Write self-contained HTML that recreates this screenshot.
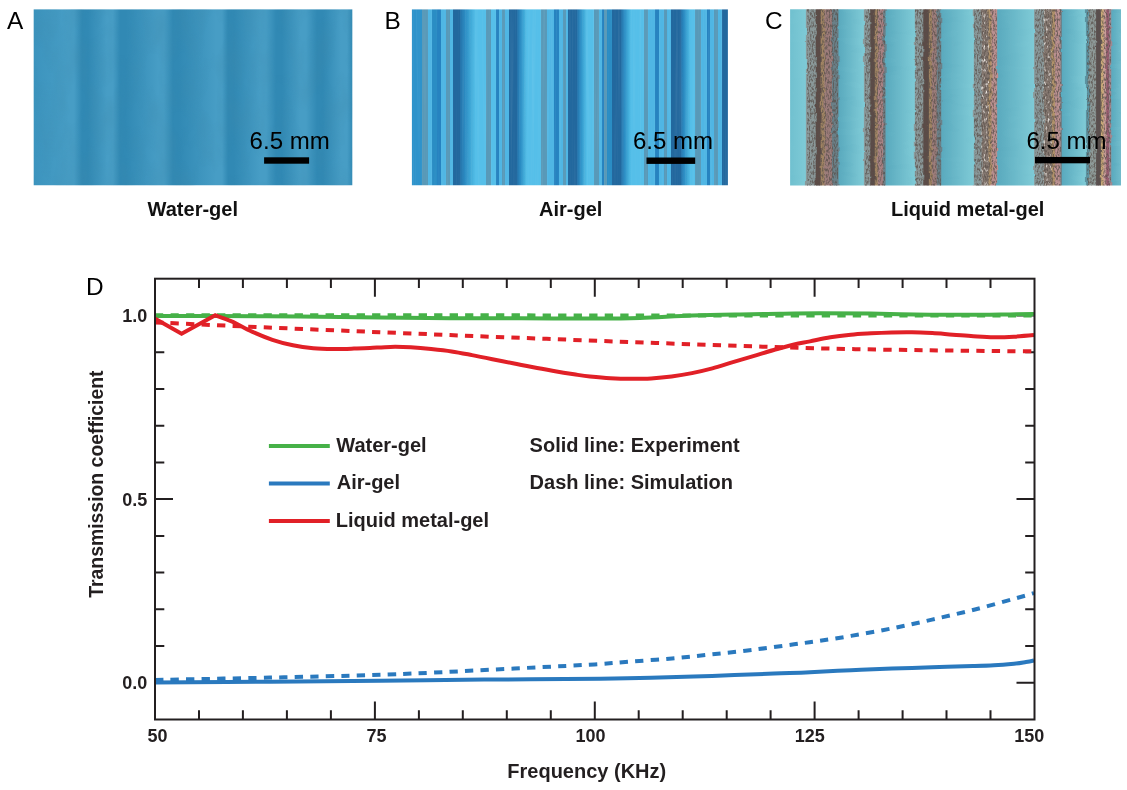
<!DOCTYPE html>
<html lang="en">
<head>
<meta charset="utf-8">
<title>Figure: gel transmission</title>
<style>
html,body{margin:0;padding:0;background:#fff;}
svg{display:block;font-family:"Liberation Sans",Arial,Helvetica,sans-serif;}
.b{font-weight:700;}
</style>
</head>
<body>
<svg width="1127" height="790" viewBox="0 0 1127 790">
<defs>
<linearGradient id="ga" gradientUnits="userSpaceOnUse" x1="33.7" y1="0" x2="352.3" y2="0"><stop offset="0.0000" stop-color="#3c94be"/><stop offset="0.1077" stop-color="#479dc5"/><stop offset="0.1265" stop-color="#479dc5"/><stop offset="0.1516" stop-color="#3189b4"/><stop offset="0.1704" stop-color="#3189b4"/><stop offset="0.2301" stop-color="#479dc5"/><stop offset="0.2489" stop-color="#479dc5"/><stop offset="0.2709" stop-color="#3189b4"/><stop offset="0.2897" stop-color="#3189b4"/><stop offset="0.3901" stop-color="#479dc5"/><stop offset="0.4090" stop-color="#479dc5"/><stop offset="0.4372" stop-color="#3189b4"/><stop offset="0.4561" stop-color="#3189b4"/><stop offset="0.5722" stop-color="#479dc5"/><stop offset="0.5910" stop-color="#479dc5"/><stop offset="0.6099" stop-color="#3189b4"/><stop offset="0.6287" stop-color="#3189b4"/><stop offset="0.7103" stop-color="#479dc5"/><stop offset="0.7291" stop-color="#479dc5"/><stop offset="0.7605" stop-color="#3189b4"/><stop offset="0.7793" stop-color="#3189b4"/><stop offset="0.8358" stop-color="#479dc5"/><stop offset="0.8547" stop-color="#479dc5"/><stop offset="0.8892" stop-color="#3189b4"/><stop offset="0.9080" stop-color="#3189b4"/><stop offset="0.9645" stop-color="#479dc5"/><stop offset="0.9834" stop-color="#479dc5"/><stop offset="1.0000" stop-color="#348cb6"/></linearGradient>
<linearGradient id="gb" gradientUnits="userSpaceOnUse" x1="411.9" y1="0" x2="727.9" y2="0"><stop offset="0.0000" stop-color="#2f93cb"/><stop offset="0.0332" stop-color="#2f93cb"/><stop offset="0.0332" stop-color="#5899b8"/><stop offset="0.0509" stop-color="#5899b8"/><stop offset="0.0509" stop-color="#4fb6e4"/><stop offset="0.0627" stop-color="#4fb6e4"/><stop offset="0.0627" stop-color="#2c8dc4"/><stop offset="0.0785" stop-color="#2c8dc4"/><stop offset="0.0785" stop-color="#2583c0"/><stop offset="0.0921" stop-color="#2583c0"/><stop offset="0.0921" stop-color="#4fb6e4"/><stop offset="0.1079" stop-color="#4fb6e4"/><stop offset="0.1079" stop-color="#5899b8"/><stop offset="0.1196" stop-color="#5899b8"/><stop offset="0.1196" stop-color="#4fb6e4"/><stop offset="0.1288" stop-color="#4fb6e4"/><stop offset="0.1288" stop-color="#24689e"/><stop offset="0.1513" stop-color="#24689e"/><stop offset="0.1513" stop-color="#2470a8"/><stop offset="0.1690" stop-color="#2c8dc4"/><stop offset="0.1867" stop-color="#40aad8"/><stop offset="0.2019" stop-color="#54bfe9"/><stop offset="0.2332" stop-color="#54bfe9"/><stop offset="0.2332" stop-color="#5899b8"/><stop offset="0.2503" stop-color="#5899b8"/><stop offset="0.2503" stop-color="#54bfe9"/><stop offset="0.2668" stop-color="#54bfe9"/><stop offset="0.2668" stop-color="#2583c0"/><stop offset="0.2763" stop-color="#2583c0"/><stop offset="0.2763" stop-color="#4fb6e4"/><stop offset="0.2864" stop-color="#4fb6e4"/><stop offset="0.2864" stop-color="#5899b8"/><stop offset="0.2956" stop-color="#5899b8"/><stop offset="0.2956" stop-color="#4fb6e4"/><stop offset="0.3066" stop-color="#4fb6e4"/><stop offset="0.3066" stop-color="#24689e"/><stop offset="0.3326" stop-color="#24689e"/><stop offset="0.3326" stop-color="#2470a8"/><stop offset="0.3437" stop-color="#2c8dc4"/><stop offset="0.3547" stop-color="#40aad8"/><stop offset="0.3642" stop-color="#54bfe9"/><stop offset="0.4070" stop-color="#54bfe9"/><stop offset="0.4070" stop-color="#5899b8"/><stop offset="0.4288" stop-color="#5899b8"/><stop offset="0.4288" stop-color="#4fb6e4"/><stop offset="0.4494" stop-color="#4fb6e4"/><stop offset="0.4494" stop-color="#2583c0"/><stop offset="0.4655" stop-color="#2583c0"/><stop offset="0.4655" stop-color="#4fb6e4"/><stop offset="0.4766" stop-color="#4fb6e4"/><stop offset="0.4766" stop-color="#5899b8"/><stop offset="0.4892" stop-color="#5899b8"/><stop offset="0.4892" stop-color="#4fb6e4"/><stop offset="0.4927" stop-color="#4fb6e4"/><stop offset="0.4927" stop-color="#24689e"/><stop offset="0.5218" stop-color="#24689e"/><stop offset="0.5218" stop-color="#2470a8"/><stop offset="0.5329" stop-color="#2c8dc4"/><stop offset="0.5440" stop-color="#40aad8"/><stop offset="0.5535" stop-color="#54bfe9"/><stop offset="0.5772" stop-color="#54bfe9"/><stop offset="0.5772" stop-color="#5899b8"/><stop offset="0.5921" stop-color="#5899b8"/><stop offset="0.5921" stop-color="#4fb6e4"/><stop offset="0.6016" stop-color="#4fb6e4"/><stop offset="0.6016" stop-color="#2583c0"/><stop offset="0.6089" stop-color="#2583c0"/><stop offset="0.6089" stop-color="#5899b8"/><stop offset="0.6184" stop-color="#5899b8"/><stop offset="0.6184" stop-color="#2c8dc4"/><stop offset="0.6332" stop-color="#2c8dc4"/><stop offset="0.6332" stop-color="#24689e"/><stop offset="0.6617" stop-color="#24689e"/><stop offset="0.6617" stop-color="#2470a8"/><stop offset="0.6728" stop-color="#2c8dc4"/><stop offset="0.6839" stop-color="#40aad8"/><stop offset="0.6934" stop-color="#54bfe9"/><stop offset="0.7345" stop-color="#54bfe9"/><stop offset="0.7345" stop-color="#5899b8"/><stop offset="0.7487" stop-color="#5899b8"/><stop offset="0.7487" stop-color="#4fb6e4"/><stop offset="0.7706" stop-color="#4fb6e4"/><stop offset="0.7706" stop-color="#2583c0"/><stop offset="0.7826" stop-color="#2583c0"/><stop offset="0.7826" stop-color="#4fb6e4"/><stop offset="0.7972" stop-color="#4fb6e4"/><stop offset="0.7972" stop-color="#5899b8"/><stop offset="0.8066" stop-color="#5899b8"/><stop offset="0.8066" stop-color="#4fb6e4"/><stop offset="0.8190" stop-color="#4fb6e4"/><stop offset="0.8190" stop-color="#24689e"/><stop offset="0.8503" stop-color="#24689e"/><stop offset="0.8503" stop-color="#2470a8"/><stop offset="0.8614" stop-color="#2c8dc4"/><stop offset="0.8725" stop-color="#40aad8"/><stop offset="0.8820" stop-color="#54bfe9"/><stop offset="0.8959" stop-color="#54bfe9"/><stop offset="0.8959" stop-color="#5899b8"/><stop offset="0.9149" stop-color="#5899b8"/><stop offset="0.9149" stop-color="#4fb6e4"/><stop offset="0.9323" stop-color="#4fb6e4"/><stop offset="0.9323" stop-color="#2583c0"/><stop offset="0.9421" stop-color="#2583c0"/><stop offset="0.9421" stop-color="#4fb6e4"/><stop offset="0.9560" stop-color="#4fb6e4"/><stop offset="0.9560" stop-color="#5899b8"/><stop offset="0.9687" stop-color="#5899b8"/><stop offset="0.9687" stop-color="#4fb6e4"/><stop offset="0.9807" stop-color="#4fb6e4"/><stop offset="0.9807" stop-color="#24689e"/><stop offset="1.0000" stop-color="#24689e"/></linearGradient>
<linearGradient id="gc" gradientUnits="userSpaceOnUse" x1="790.1" y1="0" x2="1121.0" y2="0"><stop offset="0.0000" stop-color="#70c0cf"/><stop offset="0.0462" stop-color="#7ecad6"/><stop offset="0.0496" stop-color="#8a9899"/><stop offset="0.0760" stop-color="#8a9899"/><stop offset="0.0790" stop-color="#5b4c46"/><stop offset="0.0907" stop-color="#5b4c46"/><stop offset="0.0938" stop-color="#a08464"/><stop offset="0.1025" stop-color="#a08464"/><stop offset="0.1055" stop-color="#9c7c7a"/><stop offset="0.1251" stop-color="#9c7c7a"/><stop offset="0.1281" stop-color="#6b8088"/><stop offset="0.1448" stop-color="#6b8088"/><stop offset="0.1481" stop-color="#5aaabe"/><stop offset="0.2215" stop-color="#7ecad6"/><stop offset="0.2248" stop-color="#8a9899"/><stop offset="0.2407" stop-color="#8a9899"/><stop offset="0.2438" stop-color="#5b4c46"/><stop offset="0.2545" stop-color="#5b4c46"/><stop offset="0.2575" stop-color="#a08464"/><stop offset="0.2636" stop-color="#a08464"/><stop offset="0.2666" stop-color="#a88284"/><stop offset="0.2799" stop-color="#a88284"/><stop offset="0.2829" stop-color="#6b8088"/><stop offset="0.2871" stop-color="#6b8088"/><stop offset="0.2904" stop-color="#5aaabe"/><stop offset="0.3753" stop-color="#7ecad6"/><stop offset="0.3787" stop-color="#8a9899"/><stop offset="0.4011" stop-color="#8a9899"/><stop offset="0.4041" stop-color="#5b4c46"/><stop offset="0.4178" stop-color="#5b4c46"/><stop offset="0.4208" stop-color="#a08464"/><stop offset="0.4273" stop-color="#a08464"/><stop offset="0.4303" stop-color="#9c7c7a"/><stop offset="0.4416" stop-color="#9c7c7a"/><stop offset="0.4446" stop-color="#6b8088"/><stop offset="0.4551" stop-color="#6b8088"/><stop offset="0.4584" stop-color="#5aaabe"/><stop offset="0.5536" stop-color="#7ecad6"/><stop offset="0.5570" stop-color="#8a9899"/><stop offset="0.5771" stop-color="#8a9899"/><stop offset="0.5801" stop-color="#85786f"/><stop offset="0.5981" stop-color="#85786f"/><stop offset="0.6011" stop-color="#b0926a"/><stop offset="0.6072" stop-color="#b0926a"/><stop offset="0.6103" stop-color="#ba9090"/><stop offset="0.6241" stop-color="#ba9090"/><stop offset="0.6274" stop-color="#5aaabe"/><stop offset="0.7356" stop-color="#7ecad6"/><stop offset="0.7389" stop-color="#8a9899"/><stop offset="0.7661" stop-color="#8a9899"/><stop offset="0.7691" stop-color="#85786f"/><stop offset="0.7896" stop-color="#85786f"/><stop offset="0.7927" stop-color="#b0926a"/><stop offset="0.7989" stop-color="#b0926a"/><stop offset="0.8019" stop-color="#ba9090"/><stop offset="0.8157" stop-color="#ba9090"/><stop offset="0.8187" stop-color="#6b8088"/><stop offset="0.8199" stop-color="#6b8088"/><stop offset="0.8232" stop-color="#5aaabe"/><stop offset="0.8924" stop-color="#7ecad6"/><stop offset="0.8957" stop-color="#5c92a0"/><stop offset="0.9026" stop-color="#5c92a0"/><stop offset="0.9056" stop-color="#8e9a98"/><stop offset="0.9232" stop-color="#8e9a98"/><stop offset="0.9262" stop-color="#5a5050"/><stop offset="0.9376" stop-color="#5a5050"/><stop offset="0.9407" stop-color="#c8a878"/><stop offset="0.9460" stop-color="#c8a878"/><stop offset="0.9490" stop-color="#c89c98"/><stop offset="0.9536" stop-color="#c89c98"/><stop offset="0.9567" stop-color="#985c70"/><stop offset="0.9620" stop-color="#985c70"/><stop offset="0.9650" stop-color="#a08890"/><stop offset="0.9689" stop-color="#a08890"/><stop offset="0.9722" stop-color="#5aaabe"/><stop offset="1.0000" stop-color="#72bccb"/></linearGradient>
<clipPath id="ca"><rect x="33.7" y="9.2" width="318.6" height="176.3"/></clipPath>
<clipPath id="cb"><rect x="411.9" y="9.2" width="316.0" height="176.3"/></clipPath>
<clipPath id="cc"><rect x="790.1" y="9.2" width="330.9" height="176.3"/></clipPath>
<filter id="soft" x="-5%" y="-5%" width="110%" height="110%"><feGaussianBlur stdDeviation="0.7 0"/></filter>
<filter id="wavy" x="-2%" y="-2%" width="104%" height="104%"><feTurbulence type="fractalNoise" baseFrequency="0.03 0.11" numOctaves="2" seed="4" result="t"/><feDisplacementMap in="SourceGraphic" in2="t" scale="3.2" xChannelSelector="R" yChannelSelector="G"/><feGaussianBlur stdDeviation="0.6 0.3"/></filter>
<filter id="nA" x="0" y="0" width="100%" height="100%"><feTurbulence type="fractalNoise" baseFrequency="0.045 0.02" numOctaves="3" seed="7"/><feColorMatrix type="matrix" values="0 0 0 0 0.05  0 0 0 0 0.25  0 0 0 0 0.4  1.6 0 0 0 -0.62"/></filter>
<filter id="nB" x="0" y="0" width="100%" height="100%"><feTurbulence type="fractalNoise" baseFrequency="0.55 0.006" numOctaves="2" seed="11"/><feColorMatrix type="matrix" values="0 0 0 0 1  0 0 0 0 1  0 0 0 0 1  2.2 0 0 0 -0.95"/></filter>
<filter id="nC" x="0" y="0" width="100%" height="100%"><feTurbulence type="fractalNoise" baseFrequency="0.75 0.32" numOctaves="2" seed="5"/><feColorMatrix type="matrix" values="0 0 0 0 0.1  0 0 0 0 0.08  0 0 0 0 0.07  3.4 0 0 0 -1.42"/></filter>
<filter id="nC2" x="0" y="0" width="100%" height="100%"><feTurbulence type="fractalNoise" baseFrequency="0.5 0.22" numOctaves="2" seed="23"/><feColorMatrix type="matrix" values="0 0 0 0 1  0 0 0 0 0.97  0 0 0 0 0.94  4.0 0 0 0 -2.35"/></filter>
</defs>
<rect x="0" y="0" width="1127" height="790" fill="#ffffff"/>
<g id="panelA">
<g clip-path="url(#ca)">
<rect x="30.7" y="9.2" width="324.6" height="176.3" fill="url(#ga)"/>
<rect x="33.7" y="9.2" width="318.6" height="176.3" filter="url(#nA)" opacity="0.35"/>
</g>
<rect x="264.1" y="157.3" width="45" height="6.4" fill="#000"/>
<text x="249.6" y="149" font-size="23.5" fill="#000" textLength="80.2" lengthAdjust="spacingAndGlyphs">6.5 mm</text>
<text x="7" y="28.7" font-size="24.4" fill="#000">A</text>
<text class="b" x="147.6" y="216.4" font-size="20" fill="#111">Water-gel</text>
</g>
<g id="panelB">
<g clip-path="url(#cb)">
<rect x="408.9" y="9.2" width="322.0" height="176.3" fill="url(#gb)" filter="url(#soft)"/>
<rect x="411.9" y="9.2" width="316.0" height="176.3" filter="url(#nB)" opacity="0.07"/>
</g>
<rect x="646.5" y="157.5" width="48.7" height="6.4" fill="#000"/>
<text x="632.9" y="149" font-size="23.5" fill="#000" textLength="80.2" lengthAdjust="spacingAndGlyphs">6.5 mm</text>
<text x="384.6" y="28.7" font-size="24.4" fill="#000">B</text>
<text class="b" x="539" y="216.4" font-size="20" fill="#111">Air-gel</text>
</g>
<g id="panelC">
<g clip-path="url(#cc)">
<rect x="784.1" y="3.2" width="342.9" height="188.3" fill="url(#gc)" filter="url(#wavy)"/>
<rect x="807.0" y="9.2" width="30.5" height="176.3" filter="url(#nC)" opacity="0.75"/>
<rect x="865.0" y="9.2" width="19.6" height="176.3" filter="url(#nC)" opacity="0.75"/>
<rect x="915.9" y="9.2" width="24.3" height="176.3" filter="url(#nC)" opacity="0.75"/>
<rect x="974.9" y="9.2" width="21.2" height="176.3" filter="url(#nC)" opacity="0.75"/>
<rect x="1035.1" y="9.2" width="25.8" height="176.3" filter="url(#nC)" opacity="0.75"/>
<rect x="1087.0" y="9.2" width="23.2" height="176.3" filter="url(#nC)" opacity="0.75"/>
<rect x="981.6" y="9.2" width="7.0" height="176.3" filter="url(#nC2)" opacity="0.8"/>
<rect x="1043.3" y="9.2" width="8.3" height="176.3" filter="url(#nC2)" opacity="0.8"/>
</g>
<rect x="1035" y="156.9" width="55" height="6.4" fill="#000"/>
<text x="1026.4" y="149" font-size="23.5" fill="#000" textLength="80.2" lengthAdjust="spacingAndGlyphs">6.5 mm</text>
<text x="764.9" y="28.8" font-size="24.4" fill="#000">C</text>
<text class="b" x="891" y="216.4" font-size="20" fill="#111">Liquid metal-gel</text>
</g>
<g id="chartD">
<text x="86" y="295.2" font-size="24.4" fill="#000">D</text>
<g stroke="#231f20" stroke-width="2" fill="none">
<path d="M199.0 278.7 v9.3 M199.0 719.5 v-9.3 M242.9 278.7 v9.3 M242.9 719.5 v-9.3 M286.9 278.7 v9.3 M286.9 719.5 v-9.3 M330.9 278.7 v9.3 M330.9 719.5 v-9.3 M374.9 278.7 v18.0 M374.9 719.5 v-18.0 M418.9 278.7 v9.3 M418.9 719.5 v-9.3 M462.8 278.7 v9.3 M462.8 719.5 v-9.3 M506.8 278.7 v9.3 M506.8 719.5 v-9.3 M550.8 278.7 v9.3 M550.8 719.5 v-9.3 M594.8 278.7 v18.0 M594.8 719.5 v-18.0 M638.7 278.7 v9.3 M638.7 719.5 v-9.3 M682.7 278.7 v9.3 M682.7 719.5 v-9.3 M726.7 278.7 v9.3 M726.7 719.5 v-9.3 M770.6 278.7 v9.3 M770.6 719.5 v-9.3 M814.6 278.7 v18.0 M814.6 719.5 v-18.0 M858.6 278.7 v9.3 M858.6 719.5 v-9.3 M902.6 278.7 v9.3 M902.6 719.5 v-9.3 M946.5 278.7 v9.3 M946.5 719.5 v-9.3 M990.5 278.7 v9.3 M990.5 719.5 v-9.3 M155.0 682.8 h18.0 M1034.5 682.8 h-18.0 M155.0 646.1 h9.3 M1034.5 646.1 h-9.3 M155.0 609.3 h9.3 M1034.5 609.3 h-9.3 M155.0 572.6 h9.3 M1034.5 572.6 h-9.3 M155.0 535.9 h9.3 M1034.5 535.9 h-9.3 M155.0 499.1 h18.0 M1034.5 499.1 h-18.0 M155.0 462.4 h9.3 M1034.5 462.4 h-9.3 M155.0 425.7 h9.3 M1034.5 425.7 h-9.3 M155.0 389.0 h9.3 M1034.5 389.0 h-9.3 M155.0 352.2 h9.3 M1034.5 352.2 h-9.3 M155.0 315.5 h18.0 M1034.5 315.5 h-18.0"/>
</g>
<clipPath id="cp"><rect x="155.0" y="278.7" width="879.5" height="440.8"/></clipPath>
<g clip-path="url(#cp)" fill="none" stroke-width="4.0" stroke-linejoin="miter">
<path d="M155.2 680.0 C174.3 679.6 234.2 678.4 270.0 677.6 C305.8 676.8 343.2 675.9 370.0 675.1 C396.8 674.3 410.7 673.6 431.0 672.7 C451.3 671.8 471.5 670.6 492.0 669.6 C512.5 668.6 536.9 667.4 554.0 666.5 C571.1 665.6 581.7 665.2 594.5 664.4 C607.3 663.6 618.1 662.6 631.0 661.6 C643.9 660.6 658.5 659.6 672.0 658.4 C685.5 657.2 698.5 655.7 712.0 654.3 C725.5 652.9 739.3 651.5 753.0 649.8 C766.7 648.1 782.8 645.8 794.0 644.3 C805.2 642.8 810.5 642.2 820.0 640.8 C829.5 639.4 839.0 638.0 851.0 635.9 C863.0 633.8 878.5 631.1 892.0 628.4 C905.5 625.7 918.5 622.7 932.0 619.6 C945.5 616.5 959.3 613.5 973.0 610.0 C986.7 606.5 1003.8 601.6 1014.0 598.8 C1024.2 596.0 1030.7 594.0 1034.0 593.1" stroke="#2a79be" stroke-dasharray="8.3 7.2"/>
<path d="M155.2 682.6 C174.3 682.5 232.5 682.0 270.0 681.7 C307.5 681.4 344.3 681.1 380.0 680.8 C415.7 680.4 447.3 680.0 484.0 679.6 C520.7 679.2 572.2 679.0 600.0 678.7 C627.8 678.4 632.3 678.3 651.0 677.8 C669.7 677.3 691.5 676.6 712.0 675.9 C732.5 675.2 757.7 674.1 774.0 673.5 C790.3 672.9 797.2 672.8 810.0 672.2 C822.8 671.7 837.3 670.8 851.0 670.2 C864.7 669.6 878.5 669.1 892.0 668.6 C905.5 668.1 918.5 667.7 932.0 667.3 C945.5 666.9 962.7 666.4 973.0 666.1 C983.3 665.8 987.2 665.7 994.0 665.3 C1000.8 664.9 1008.7 664.2 1014.0 663.7 C1019.3 663.2 1022.7 662.5 1026.0 662.0 C1029.3 661.5 1032.7 660.7 1034.0 660.4" stroke="#2a79be"/>
<path d="M155.2 315.2 C301.7 315.3 887.5 315.5 1034.0 315.6" stroke="#46b148" stroke-dasharray="8.3 7.2"/>
<path d="M155.2 315.9 C165.2 315.9 190.9 315.8 215.0 315.9 C239.1 316.0 272.5 316.2 300.0 316.5 C327.5 316.8 355.0 317.2 380.0 317.5 C405.0 317.8 426.7 318.1 450.0 318.2 C473.3 318.3 495.0 318.2 520.0 318.3 C545.0 318.4 580.0 318.7 600.0 318.6 C620.0 318.6 624.7 318.5 640.0 318.0 C655.3 317.5 675.3 316.2 692.0 315.6 C708.7 315.0 725.3 314.7 740.0 314.4 C754.7 314.1 766.7 313.9 780.0 313.7 C793.3 313.5 805.0 313.3 820.0 313.3 C835.0 313.3 851.7 313.4 870.0 313.6 C888.3 313.8 911.7 314.5 930.0 314.7 C948.3 314.9 966.7 314.9 980.0 314.8 C993.3 314.8 1001.0 314.5 1010.0 314.4 C1019.0 314.2 1030.0 314.0 1034.0 313.9" stroke="#46b148"/>
<path d="M155.2 322.4 C174.0 323.2 230.5 325.9 268.0 327.5 C305.5 329.1 343.0 330.7 380.0 332.2 C417.0 333.7 453.3 335.2 490.0 336.7 C526.7 338.1 563.3 339.5 600.0 340.9 C636.7 342.3 673.3 343.6 710.0 344.9 C746.7 346.1 783.3 347.5 820.0 348.4 C856.7 349.3 894.3 349.8 930.0 350.3 C965.7 350.8 1016.7 351.2 1034.0 351.4" stroke="#e12027" stroke-dasharray="8.3 7.2"/>
<path d="M155.2 318.8 L181.6 333.7 L215.3 315.3 C218.0 316.3 225.5 318.7 231.6 321.4 C237.7 324.1 245.2 328.5 252.0 331.6 C258.8 334.7 265.6 337.5 272.4 339.8 C279.2 342.1 286.1 343.9 292.9 345.3 C299.7 346.7 306.5 347.6 313.3 348.2 C320.1 348.8 326.9 348.9 333.7 349.0 C340.5 349.1 347.9 348.8 354.0 348.6 C360.1 348.4 363.9 348.3 370.0 348.0 C376.1 347.7 383.6 347.0 390.4 346.9 C397.2 346.8 404.0 346.9 410.8 347.3 C417.6 347.7 424.4 348.3 431.2 349.0 C438.0 349.7 444.8 350.4 451.6 351.4 C458.4 352.4 465.2 353.8 472.0 355.1 C478.8 356.4 485.6 357.8 492.4 359.2 C499.2 360.6 506.1 361.9 512.9 363.3 C519.7 364.7 526.5 366.0 533.3 367.3 C540.1 368.6 546.9 369.8 553.7 371.0 C560.5 372.2 568.0 373.4 574.0 374.3 C580.0 375.2 583.9 375.9 590.0 376.5 C596.1 377.1 603.6 377.8 610.4 378.2 C617.2 378.6 624.0 378.8 630.8 378.8 C637.6 378.8 644.4 378.8 651.2 378.4 C658.0 378.0 664.8 377.4 671.6 376.5 C678.4 375.6 685.2 374.5 692.0 373.1 C698.8 371.8 705.6 370.2 712.4 368.4 C719.2 366.6 726.1 364.2 732.9 362.2 C739.7 360.1 746.5 358.1 753.3 356.1 C760.1 354.1 766.9 351.9 773.7 350.0 C780.5 348.1 788.1 345.9 794.1 344.5 C800.1 343.1 804.0 342.6 810.0 341.4 C816.0 340.2 823.6 338.4 830.4 337.3 C837.2 336.2 844.0 335.4 850.8 334.7 C857.6 334.0 864.4 333.7 871.2 333.3 C878.0 332.9 884.8 332.6 891.6 332.4 C898.4 332.2 905.2 332.1 912.0 332.2 C918.8 332.3 925.6 332.7 932.4 333.1 C939.2 333.5 946.1 334.2 952.9 334.7 C959.7 335.2 966.5 335.9 973.3 336.3 C980.1 336.7 986.9 337.2 993.7 337.3 C1000.5 337.4 1007.3 337.1 1014.0 336.7 C1020.7 336.3 1030.7 335.4 1034.0 335.1" stroke="#e12027"/>
</g>
<rect x="155.0" y="278.7" width="879.5" height="440.8" stroke="#231f20" stroke-width="2" fill="none"/>
<g class="b" font-size="18" fill="#231f20">
<text x="157.5" y="742.4" text-anchor="middle">50</text>
<text x="376.6" y="742.4" text-anchor="middle">75</text>
<text x="590.5" y="742.4" text-anchor="middle">100</text>
<text x="809.7" y="742.4" text-anchor="middle">125</text>
<text x="1029.3" y="742.4" text-anchor="middle">150</text>
<text x="147.2" y="321.9" text-anchor="end">1.0</text>
<text x="147.2" y="505.6" text-anchor="end">0.5</text>
<text x="147.2" y="689.2" text-anchor="end">0.0</text>
</g>
<text class="b" x="507.3" y="777.7" font-size="20" fill="#231f20">Frequency (KHz)</text>
<text class="b" transform="translate(102.9 484.1) rotate(-90)" text-anchor="middle" font-size="19.4" fill="#231f20">Transmission coefficient</text>
<g stroke-width="4" fill="none">
<path d="M268.9 446.0 H329.8" stroke="#46b148"/>
<path d="M268.9 483.5 H329.8" stroke="#2a79be"/>
<path d="M268.9 521.1 H329.8" stroke="#e12027"/>
</g>
<g class="b" font-size="20" fill="#231f20">
<text x="336.3" y="451.9">Water-gel</text>
<text x="336.7" y="489.2">Air-gel</text>
<text x="335.7" y="526.5">Liquid metal-gel</text>
<text x="529.6" y="451.9">Solid line: Experiment</text>
<text x="529.6" y="489.2">Dash line: Simulation</text>
</g>
</g>
</svg>
</body>
</html>
